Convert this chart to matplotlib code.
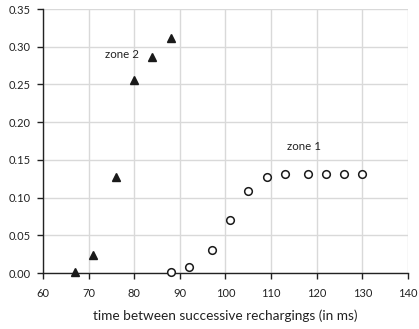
import matplotlib
matplotlib.use("Agg")
import matplotlib.pyplot as plt

zone2_x = [67, 71, 76, 80, 84, 88]
zone2_y = [0.002, 0.024, 0.128, 0.256, 0.286, 0.311]
zone1_x = [88, 92, 97, 101, 105, 109, 113, 118, 122, 126, 130]
zone1_y = [0.001, 0.008, 0.031, 0.071, 0.109, 0.127, 0.131, 0.131, 0.131, 0.131, 0.131]
x_ticks = [60, 70, 80, 90, 100, 110, 120, 130, 140]
y_ticks = [0.00, 0.05, 0.10, 0.15, 0.20, 0.25, 0.30, 0.35]

plt.rcParams['font.family'] = ['Lato', 'DejaVu Sans']
fig = plt.figure(figsize=(4.19, 3.29), dpi=100)
ax = fig.add_axes([0.1026, 0.170, 0.8711, 0.8026])

ax.set_xlim(60, 140)
ax.set_ylim(0, 0.35)
ax.set_xticks(x_ticks)
ax.set_yticks(y_ticks)
ax.set_yticklabels([f"{v:.2f}" for v in y_ticks])
ax.grid(True, color='#d9d9d9', linewidth=1.0, zorder=0)
ax.set_axisbelow(True)
for s in ['top', 'right']:
    ax.spines[s].set_visible(False)
for s in ['left', 'bottom']:
    ax.spines[s].set_color('#222222')
    ax.spines[s].set_linewidth(1.0)
    ax.spines[s].set_zorder(3)
ax.tick_params(axis='both', labelsize=8.0, colors='#222222', length=4, width=1, direction='out')
ax.tick_params(axis='x', pad=7)
ax.tick_params(axis='y', pad=5)

ax.plot(zone2_x, zone2_y, linestyle='none', marker='^', markersize=5.5,
        color='#1a1a1a', clip_on=False, zorder=4)
ax.plot(zone1_x, zone1_y, linestyle='none', marker='o', markersize=5.5,
        markerfacecolor='white', markeredgecolor='#1a1a1a', markeredgewidth=1.1,
        clip_on=False, zorder=4)

ax.text(77.4, 0.290, "zone 2", fontsize=8.3, ha='center', va='center', color='#222222')
ax.text(117.1, 0.168, "zone 1", fontsize=8.3, ha='center', va='center', color='#222222')

ax.set_xlabel("time between successive rechargings (in ms)", fontsize=9.8, color='#222222', labelpad=7)

fig.savefig("out.png", dpi=100)
